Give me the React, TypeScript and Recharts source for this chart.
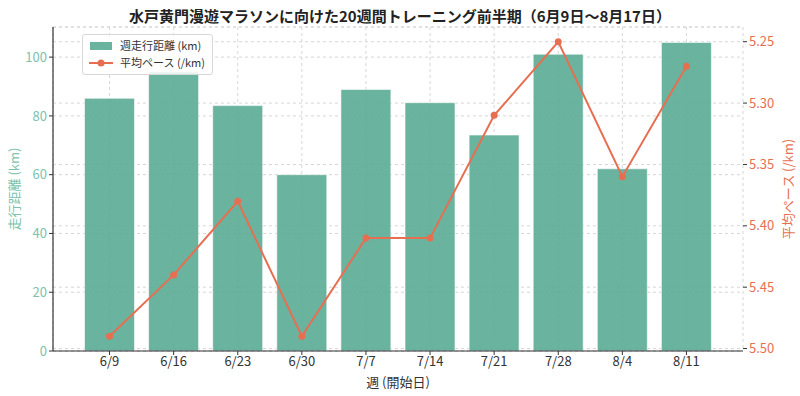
import React from 'react';
import { ComposedChart, Bar, Line, XAxis, YAxis, CartesianGrid } from 'recharts';

const weeks = ['6/9', '6/16', '6/23', '6/30', '7/7', '7/14', '7/21', '7/28', '8/4', '8/11'];
const distanceKm = [86, 95, 83.5, 60, 89, 84.5, 73.5, 101, 62, 105];
const paceMin = [5.49, 5.44, 5.38, 5.49, 5.41, 5.41, 5.31, 5.25, 5.36, 5.27];
const leftTicks = [0, 20, 40, 60, 80, 100];
const rightTicks = [5.25, 5.3, 5.35, 5.4, 5.45, 5.5];

const title = '水戸黄門漫遊マラソンに向けた20週間トレーニング前半期（6月9日〜8月17日）';
const barName = '週走行距離 (km)';
const lineName = '平均ペース (/km)';

const data = weeks.map((w, i) => ({ week: w, dist: distanceKm[i], pace: paceMin[i] }));

const FONT = '"Noto Sans CJK JP", "Noto Sans", sans-serif';
const BAR = '#5aab95';
const LINE = '#e76f51';
const LEFT_TXT = '#7cc2ae';

const LegendBox = () => (
  <div
    style={{
      position: 'absolute',
      left: 82,
      top: 34,
      background: 'rgba(255,255,255,0.85)',
      border: '1px solid #d8d8d8',
      borderRadius: 3,
      padding: '2px 7px 3px 5px',
      fontFamily: FONT,
      fontSize: 11,
      color: '#333',
      lineHeight: '17px',
    }}
  >
    <div style={{ display: 'flex', alignItems: 'center' }}>
      <svg width={26} height={12} style={{ marginRight: 6 }}>
        <rect x={2} y={2} width={22} height={8} fill={BAR} fillOpacity={0.9} />
      </svg>
      {barName}
    </div>
    <div style={{ display: 'flex', alignItems: 'center' }}>
      <svg width={26} height={12} style={{ marginRight: 6 }}>
        <line x1={1} y1={6} x2={25} y2={6} stroke={LINE} strokeWidth={2} />
        <circle cx={13} cy={6} r={3.5} fill={LINE} />
      </svg>
      {lineName}
    </div>
  </div>
);

export default function App() {
  return (
    <div style={{ position: 'absolute', left: 0, top: 0, width: 800, height: 396, background: '#fff' }}>
      <div
        style={{
          position: 'absolute',
          top: 5,
          left: 0,
          width: 800,
          textAlign: 'center',
          fontFamily: FONT,
          fontSize: 15,
          fontWeight: 'bold',
          color: '#222',
          lineHeight: '22px',
        }}
      >
        {title}
      </div>
      <ComposedChart
        width={800}
        height={396}
        data={data}
        margin={{ top: 27, right: 0, bottom: 0, left: 0 }}
        style={{ fontFamily: FONT }}
      >
        <CartesianGrid yAxisId="left" stroke="#d6d6d6" strokeDasharray="3 3" vertical={true} horizontal={true} />
        <CartesianGrid yAxisId="right" stroke="#d6d6d6" strokeDasharray="3 3" vertical={false} horizontal={true} />
        <XAxis
          dataKey="week"
          padding={{ left: 24.5, right: 24.5 }}
          height={45}
          tick={{ fill: '#333', fontSize: 13 }}
          tickLine={{ stroke: '#333' }}
          tickSize={4}
          axisLine={{ stroke: '#333', strokeWidth: 1.2 }}
          label={{ value: '週 (開始日)', position: 'insideBottom', offset: 9, fill: '#333', fontSize: 13 }}
          interval={0}
        />
        <YAxis
          yAxisId="left"
          orientation="left"
          width={53}
          domain={[0, 110.25]}
          ticks={leftTicks}
          tick={{ fill: LEFT_TXT, fontSize: 13 }}
          tickLine={{ stroke: '#333' }}
          tickSize={4}
          axisLine={{ stroke: '#333', strokeWidth: 1.2 }}
          allowDataOverflow
          label={{ value: '走行距離 (km)', angle: -90, position: 'center', dx: -12, fill: LEFT_TXT, fontSize: 13 }}
        />
        <YAxis
          yAxisId="right"
          orientation="right"
          width={57}
          reversed
          domain={[5.238, 5.502]}
          ticks={rightTicks}
          tickFormatter={(v: number) => v.toFixed(2)}
          tick={{ fill: LINE, fontSize: 13 }}
          tickLine={{ stroke: '#333' }}
          tickSize={4}
          axisLine={false}
          allowDataOverflow
          label={{ value: lineName, angle: -90, position: 'center', dx: 17, fill: LINE, fontSize: 13 }}
        />
        <Bar
          yAxisId="left"
          dataKey="dist"
          name={barName}
          fill={BAR}
          fillOpacity={0.9}
          stroke="#ffffff"
          strokeOpacity={0.6}
          barSize={50}
          isAnimationActive={false}
        />
        <Line
          yAxisId="right"
          dataKey="pace"
          name={lineName}
          stroke={LINE}
          strokeWidth={2}
          dot={{ r: 3.5, fill: LINE, stroke: LINE, strokeWidth: 0 }}
          isAnimationActive={false}
        />
      </ComposedChart>
      <LegendBox />
    </div>
  );
}
